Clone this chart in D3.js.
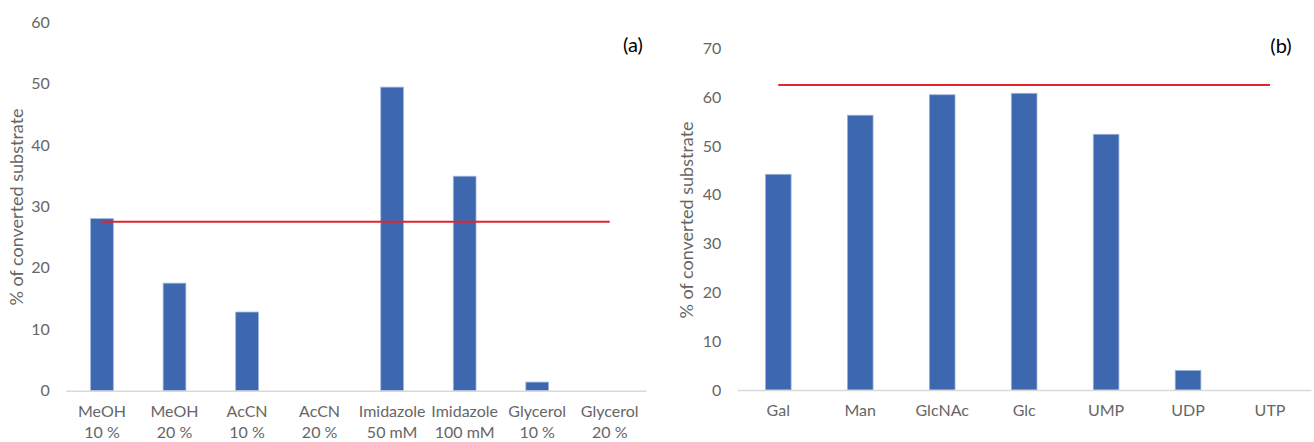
<!DOCTYPE html>
<html>
<head>
<meta charset="utf-8">
<script src="https://cdn.jsdelivr.net/npm/d3@7"></script>
<style>
  body { margin: 0; background: #fff; }
  svg text { font-family: Lato, "Open Sans", sans-serif; }
</style>
</head>
<body>
<div id="chart"></div>
<script>
// panel (a): solvents / additives
var solventLabels = ["MeOH|10 %", "MeOH|20 %", "AcCN|10 %", "AcCN|20 %",
                     "Imidazole|50 mM", "Imidazole|100 mM", "Glycerol|10 %", "Glycerol|20 %"];
var solventValues = [28.0, 17.5, 12.8, 0, 49.4, 34.9, 1.4, 0];
var solventRef = 27.5;
var solventTicks = [0, 10, 20, 30, 40, 50, 60];

// panel (b): sugars / nucleotides
var sugarLabels = ["Gal", "Man", "GlcNAc", "Glc", "UMP", "UDP", "UTP"];
var sugarValues = [44.2, 56.3, 60.5, 60.8, 52.4, 4.0, 0];
var sugarRef = 62.5;
var sugarTicks = [0, 10, 20, 30, 40, 50, 60, 70];

var svg = d3.select("#chart").append("svg")
    .attr("width", 1314).attr("height", 442);

function drawPanel(opt) {
  var g = svg.append("g");
  var x = d3.scaleBand().domain(opt.labels).range([opt.x0, opt.x1])
      .paddingInner(0.687).paddingOuter(0.3435);
  var y = d3.scaleLinear().domain([0, opt.ymax]).range([opt.y0, opt.y1]);

  // y tick labels
  var ya = g.append("g").attr("transform", "translate(" + opt.x0 + ",0)")
      .call(d3.axisLeft(y).tickValues(opt.ticks).tickSize(0).tickPadding(16));
  ya.select(".domain").remove();
  ya.selectAll("text").attr("fill", "#666").style("font-size", "16px")
      .style("font-family", "Lato, sans-serif");

  // bars
  g.selectAll("rect.bar").data(opt.values).enter().append("rect")
      .attr("class", "bar")
      .attr("x", function(d, i) { return x(opt.labels[i]); })
      .attr("width", x.bandwidth())
      .attr("y", function(d) { return y(d); })
      .attr("height", function(d) { return opt.y0 - y(d); })
      .attr("fill", "#3d68b0")
      .attr("stroke", "#9db3dc")
      .attr("stroke-width", 0.8)
      .style("display", function(d) { return d > 0 ? null : "none"; });

  // x axis
  var xa = g.append("g").attr("transform", "translate(0," + opt.y0 + ")")
      .call(d3.axisBottom(x).tickSize(0).tickSizeOuter(0).tickFormat(""));
  xa.select(".domain").attr("stroke", "#d9d9d9").attr("stroke-width", 1.6);
  xa.selectAll(".tick").each(function(lab) {
    var t = d3.select(this).append("text")
        .attr("fill", "#666").attr("text-anchor", "middle")
        .style("font-size", "16px").attr("y", 26);
    lab.split("|").forEach(function(part, k) {
      t.append("tspan").attr("x", 0).attr("dy", k === 0 ? 0 : 21).text(part);
    });
  });

  // reference line
  var c0 = x(opt.labels[0]) + x.bandwidth() / 2,
      c1 = x(opt.labels[opt.labels.length - 1]) + x.bandwidth() / 2;
  g.append("line")
      .attr("x1", c0).attr("x2", c1)
      .attr("y1", y(opt.ref)).attr("y2", y(opt.ref))
      .attr("stroke", "#e0252b").attr("stroke-width", 2);

  // y title
  g.append("text")
      .attr("transform", "translate(" + opt.titleX + "," + opt.titleY + ") rotate(-90)")
      .attr("text-anchor", "middle").attr("fill", "#666")
      .style("font-size", "18px")
      .text("% of converted substrate");

  // panel tag
  g.append("text").attr("x", opt.tagX).attr("y", opt.tagY)
      .attr("text-anchor", "middle").attr("fill", "#000")
      .style("font-size", "20px").text(opt.tag);
}

drawPanel({labels: solventLabels, values: solventValues, ref: solventRef,
  ticks: solventTicks, ymax: 60, x0: 65.7, x1: 646, y0: 390.7, y1: 22,
  titleX: 23, titleY: 207, tag: "(a)", tagX: 633, tagY: 52});

drawPanel({labels: sugarLabels, values: sugarValues, ref: sugarRef,
  ticks: sugarTicks, ymax: 70, x0: 737.3, x1: 1311, y0: 390, y1: 48.4,
  titleX: 693, titleY: 220, tag: "(b)", tagX: 1281, tagY: 53});
</script>
</body>
</html>
